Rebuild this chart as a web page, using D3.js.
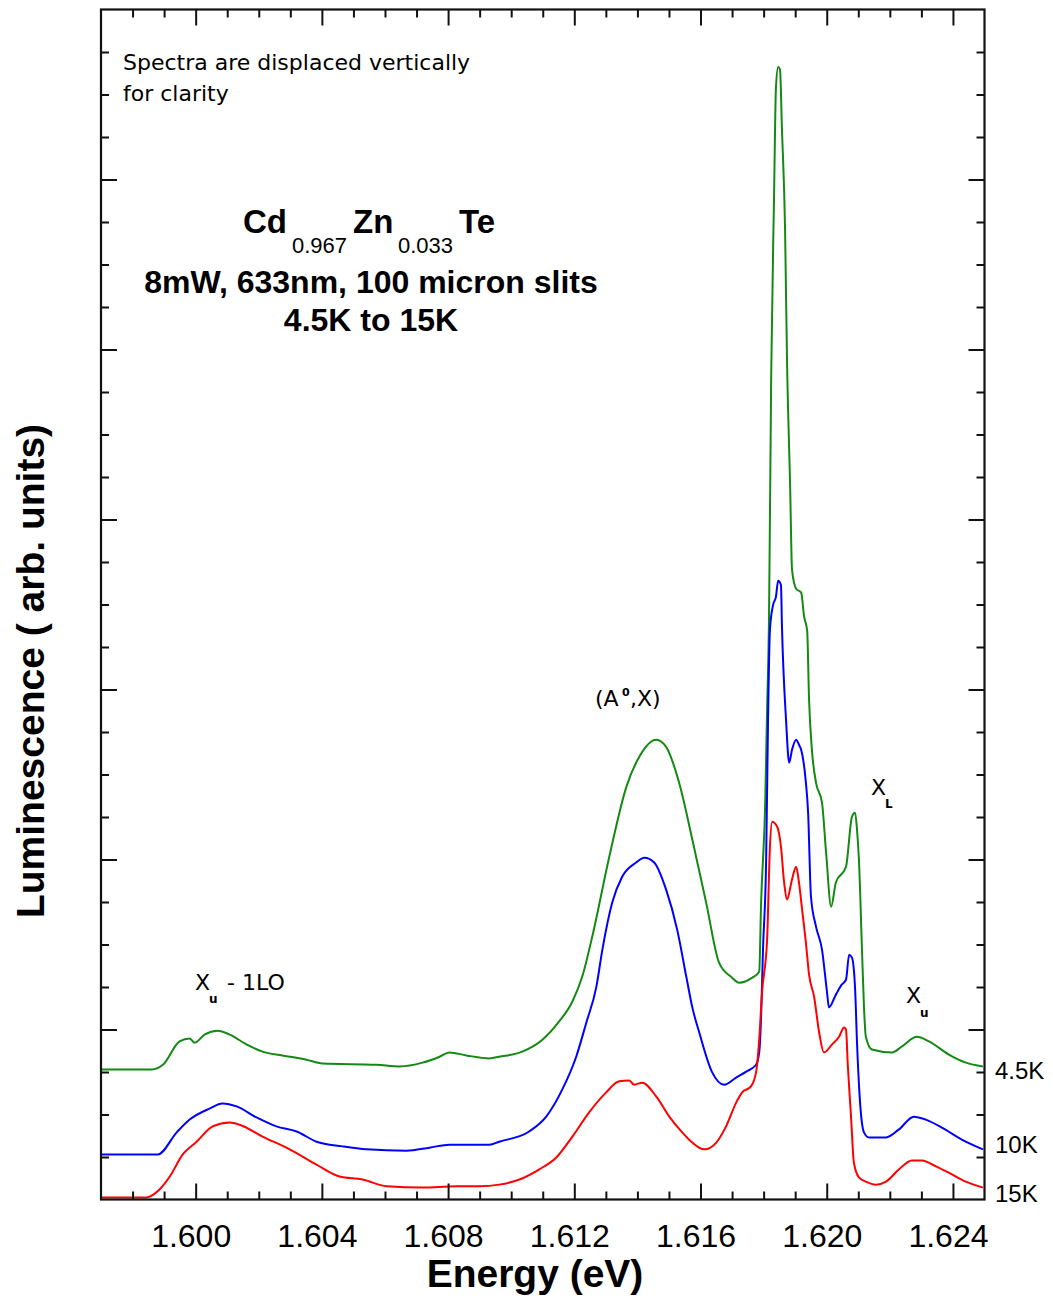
<!DOCTYPE html>
<html><head><meta charset="utf-8">
<script src="https://cdn.jsdelivr.net/npm/d3@7"></script>
<style>
html,body{margin:0;padding:0;background:#fff;}
svg{display:block;}
text{fill:#000;}
</style></head>
<body>
<svg id="chart" width="1053" height="1310"></svg>
<script>
// ---- data (Energy in eV, luminescence in arb. units, spectra offset vertically) ----
const seriesNames = ["4.5K", "10K", "15K"];
const seriesColors = ["#138a13", "#0000ff", "#ff0000"];

const green45K_E = [1.5970,1.59861,1.59896,1.59949,1.59981,1.59997,1.60028,1.60070,1.60108,1.60161,1.60212,1.60275,1.60351,1.60402,1.60573,1.60646,1.60719,1.60773,1.60804,1.60858,1.60931,1.60962,1.61035,1.61099,1.61152,1.61194,1.61225,1.61257,1.61311,1.61365,1.61406,1.61460,1.61491,1.61532,1.61574,1.61618,1.61659,1.61700,1.61722,1.61764,1.61786,1.61792,1.61805,1.61811,1.61817,1.61824,1.61833,1.61839,1.61846,1.61852,1.61858,1.61868,1.61874,1.61884,1.61890,1.61903,1.61919,1.61928,1.61938,1.61944,1.61953,1.61966,1.61985,1.61998,1.62014,1.62029,1.62061,1.62080,1.62090,1.62096,1.62102,1.62112,1.62118,1.62124,1.62143,1.62207,1.62238,1.62286,1.62324,1.62387,1.62441,1.62495];
const green45K_I = [3.06,3.06,3.17,3.72,3.79,3.69,3.88,3.97,3.88,3.65,3.48,3.39,3.29,3.20,3.17,3.13,3.22,3.36,3.46,3.39,3.32,3.36,3.48,3.76,4.19,4.66,5.24,6.19,8.07,9.71,10.42,10.82,10.65,9.81,8.47,6.98,5.57,5.22,5.10,5.22,5.36,6.98,9.34,11.52,13.64,19.40,23.59,26.15,26.65,26.58,25.21,22.81,19.80,16.79,14.82,14.37,14.28,13.73,13.38,11.76,10.58,9.81,9.34,8.16,6.89,7.46,7.83,9.01,9.10,8.70,8.00,5.81,4.54,3.83,3.53,3.46,3.60,3.83,3.72,3.41,3.22,3.13];

const blue10K_E = [1.5970,1.59880,1.59940,1.59981,1.60044,1.60085,1.60130,1.60193,1.60256,1.60320,1.60383,1.60465,1.60541,1.60668,1.60741,1.60804,1.60931,1.60962,1.61057,1.61111,1.61162,1.61206,1.61238,1.61270,1.61289,1.61320,1.61352,1.61396,1.61422,1.61453,1.61491,1.61526,1.61555,1.61574,1.61596,1.61637,1.61675,1.61713,1.61745,1.61776,1.61786,1.61792,1.61798,1.61808,1.61814,1.61820,1.61830,1.61839,1.61846,1.61855,1.61858,1.61871,1.61881,1.61890,1.61903,1.61912,1.61919,1.61934,1.61941,1.61950,1.61966,1.61985,1.62001,1.62007,1.62029,1.62048,1.62061,1.62071,1.62080,1.62090,1.62096,1.62105,1.62118,1.62134,1.62188,1.62229,1.62276,1.62314,1.62365,1.62428,1.62495];
const blue10K_I = [1.06,1.06,1.58,1.88,2.14,2.26,2.19,1.93,1.72,1.60,1.36,1.25,1.18,1.15,1.22,1.29,1.29,1.36,1.60,1.95,2.59,3.36,4.16,5.01,5.88,6.98,7.60,7.93,8.04,7.93,7.29,6.35,5.24,4.52,3.93,2.99,2.70,2.87,3.01,3.17,3.46,4.30,5.88,8.00,11.29,13.41,13.99,14.18,14.56,14.46,13.52,11.29,10.28,10.58,10.82,10.70,10.58,9.81,9.10,7.13,6.42,5.88,4.87,4.52,4.82,5.06,5.17,5.76,5.69,4.94,3.69,2.35,1.58,1.46,1.46,1.65,1.95,1.88,1.69,1.41,1.18];

const red15K_E = [1.5970,1.59845,1.59886,1.59918,1.59959,1.60003,1.60054,1.60108,1.60139,1.60212,1.60298,1.60383,1.60456,1.60529,1.60605,1.60719,1.60826,1.60899,1.60962,1.61026,1.61089,1.61143,1.61194,1.61247,1.61301,1.61342,1.61374,1.61390,1.61415,1.61460,1.61501,1.61542,1.61574,1.61612,1.61650,1.61681,1.61713,1.61732,1.61760,1.61776,1.61786,1.61795,1.61811,1.61820,1.61827,1.61843,1.61855,1.61865,1.61874,1.61890,1.61903,1.61912,1.61922,1.61934,1.61944,1.61960,1.61976,1.61991,1.62017,1.62039,1.62055,1.62061,1.62067,1.62077,1.62086,1.62102,1.62124,1.62156,1.62188,1.62229,1.62270,1.62302,1.62346,1.62387,1.62441,1.62495];
const red15K_I = [0.05,0.05,0.24,0.54,1.06,1.36,1.72,1.81,1.76,1.48,1.18,0.82,0.54,0.47,0.31,0.28,0.31,0.31,0.35,0.47,0.71,0.99,1.48,2.05,2.52,2.78,2.80,2.70,2.75,2.42,1.95,1.58,1.34,1.18,1.34,1.72,2.28,2.52,2.66,2.99,3.76,4.87,6.11,8.30,8.89,8.77,8.30,7.46,7.06,7.53,7.83,7.46,6.82,6.04,5.29,4.77,3.93,3.46,3.65,3.83,4.05,4.00,3.13,1.95,0.87,0.52,0.42,0.35,0.42,0.71,0.92,0.92,0.78,0.63,0.42,0.28];

const xMajorTicks = [1.600, 1.604, 1.608, 1.612, 1.616, 1.620, 1.624];
const xTickLabels = ["1.600", "1.604", "1.608", "1.612", "1.616", "1.620", "1.624"];
const yMajorTicks = [4, 8, 12, 16, 20, 24];

// ---- layout ----
const mLeft = 101, mRight = 984.5, mTop = 9.5, mBottom = 1199.5;
const svg = d3.select("#chart");

const x = d3.scaleLinear().domain([1.597, 1.625]).range([mLeft, mRight]);
const y = d3.scaleLinear().domain([0, 28]).range([mBottom, mTop]);

const xMinor = d3.range(1598, 1625).map(v => v / 1000).filter(v => !xMajorTicks.some(m => Math.abs(m - v) < 1e-7));
const yMinor = d3.range(1, 28).filter(v => v % 4 !== 0);

const series = [
  {name: seriesNames[0], color: seriesColors[0], E: green45K_E, I: green45K_I},
  {name: seriesNames[1], color: seriesColors[1], E: blue10K_E, I: blue10K_I},
  {name: seriesNames[2], color: seriesColors[2], E: red15K_E, I: red15K_I}
];

const line = d3.line().x(d => x(d[0])).y(d => y(d[1])).curve(d3.curveMonotoneX);
const plot = svg.append("g");
series.forEach(s => {
  plot.append("path")
    .datum(s.E.map((e, i) => [e, s.I[i]]))
    .attr("fill", "none")
    .attr("stroke", s.color)
    .attr("stroke-width", 2)
    .attr("stroke-linejoin", "miter")
    .attr("d", line);
});

// ---- axes (inward ticks on all four sides) ----
function styleAxis(g) {
  g.select(".domain").remove();
  g.selectAll(".tick line").attr("stroke", "#111").attr("stroke-width", 2);
}
svg.append("g").attr("transform", `translate(0,${mBottom})`)
  .call(d3.axisBottom(x).tickValues(xMinor).tickSize(-8).tickFormat(""))
  .call(styleAxis);
const xb = svg.append("g").attr("transform", `translate(0,${mBottom})`)
  .call(d3.axisBottom(x).tickValues(xMajorTicks).tickSize(-16).tickFormat((d, i) => xTickLabels[i]))
  .call(styleAxis);
xb.selectAll(".tick text")
  .attr("y", 47).attr("dy", 0).attr("x", -5)
  .attr("font-family", "'Liberation Sans', Arial, sans-serif")
  .attr("font-size", 32).attr("fill", "#111");

svg.append("g").attr("transform", `translate(0,${mTop})`)
  .call(d3.axisTop(x).tickValues(xMinor).tickSize(-8).tickFormat(""))
  .call(styleAxis);
svg.append("g").attr("transform", `translate(0,${mTop})`)
  .call(d3.axisTop(x).tickValues(xMajorTicks).tickSize(-16).tickFormat(""))
  .call(styleAxis);

svg.append("g").attr("transform", `translate(${mLeft},0)`)
  .call(d3.axisLeft(y).tickValues(yMinor).tickSize(-8).tickFormat(""))
  .call(styleAxis);
svg.append("g").attr("transform", `translate(${mLeft},0)`)
  .call(d3.axisLeft(y).tickValues(yMajorTicks).tickSize(-16).tickFormat(""))
  .call(styleAxis);
svg.append("g").attr("transform", `translate(${mRight},0)`)
  .call(d3.axisRight(y).tickValues(yMinor).tickSize(-8).tickFormat(""))
  .call(styleAxis);
svg.append("g").attr("transform", `translate(${mRight},0)`)
  .call(d3.axisRight(y).tickValues(yMajorTicks).tickSize(-16).tickFormat(""))
  .call(styleAxis);

svg.append("rect")
  .attr("x", mLeft).attr("y", mTop)
  .attr("width", mRight - mLeft).attr("height", mBottom - mTop)
  .attr("fill", "none").attr("stroke", "#111").attr("stroke-width", 2.2);

// ---- axis titles ----
svg.append("text")
  .attr("x", 535).attr("y", 1287)
  .attr("text-anchor", "middle")
  .attr("font-family", "'Liberation Sans', Arial, sans-serif")
  .attr("font-weight", "bold").attr("font-size", 39)
  .text("Energy (eV)");

svg.append("text")
  .attr("transform", "translate(44,671) rotate(-90)")
  .attr("text-anchor", "middle")
  .attr("font-family", "'Liberation Sans', Arial, sans-serif")
  .attr("font-weight", "bold").attr("font-size", 39)
  .text("Luminescence ( arb. units)");

// ---- annotations ----
const small = "'DejaVu Sans', sans-serif";
svg.append("text").attr("x", 123).attr("y", 70)
  .attr("font-family", small).attr("font-size", 22).attr("fill", "#111")
  .text("Spectra are displaced vertically");
svg.append("text").attr("x", 123).attr("y", 101)
  .attr("font-family", small).attr("font-size", 22).attr("fill", "#111")
  .text("for clarity");

const bold = "'Liberation Sans', Arial, sans-serif";
const t1 = svg.append("text").attr("font-family", bold).attr("font-size", 33).attr("font-weight", "bold");
t1.append("tspan").attr("x", 243).attr("y", 233).text("Cd");
t1.append("tspan").attr("x", 292).attr("y", 253).attr("font-size", 22).attr("font-weight", "normal").text("0.967");
t1.append("tspan").attr("x", 353).attr("y", 233).text("Zn");
t1.append("tspan").attr("x", 398).attr("y", 253).attr("font-size", 22).attr("font-weight", "normal").text("0.033");
t1.append("tspan").attr("x", 459).attr("y", 233).text("Te");

svg.append("text").attr("x", 371).attr("y", 293).attr("text-anchor", "middle")
  .attr("font-family", bold).attr("font-size", 32).attr("font-weight", "bold")
  .text("8mW, 633nm, 100 micron slits");
svg.append("text").attr("x", 371).attr("y", 331).attr("text-anchor", "middle")
  .attr("font-family", bold).attr("font-size", 32).attr("font-weight", "bold")
  .text("4.5K to 15K");

// peak labels
const a = svg.append("text").attr("font-family", small).attr("font-size", 22).attr("fill", "#111");
a.append("tspan").attr("x", 595).attr("y", 706).text("(A");
a.append("tspan").attr("x", 622).attr("y", 696).attr("font-size", 11).attr("font-weight", "bold").text("0");
a.append("tspan").attr("x", 630).attr("y", 706).text(",X)");

const xl = svg.append("text").attr("font-family", small).attr("font-size", 22).attr("fill", "#111");
xl.append("tspan").attr("x", 871).attr("y", 795).text("X");
xl.append("tspan").attr("x", 885).attr("y", 808).attr("font-size", 12).attr("font-weight", "bold").text("L");

const xu = svg.append("text").attr("font-family", small).attr("font-size", 22).attr("fill", "#111");
xu.append("tspan").attr("x", 906).attr("y", 1003).text("X");
xu.append("tspan").attr("x", 920).attr("y", 1017).attr("font-size", 12).attr("font-weight", "bold").text("u");

const xlo = svg.append("text").attr("font-family", small).attr("font-size", 22).attr("fill", "#111");
xlo.append("tspan").attr("x", 195).attr("y", 990).text("X");
xlo.append("tspan").attr("x", 209).attr("y", 1003).attr("font-size", 12).attr("font-weight", "bold").text("u");
xlo.append("tspan").attr("x", 227).attr("y", 990).text("- 1LO");

// series labels at right
const labelY = [1079, 1153, 1202];
series.forEach((s, i) => {
  svg.append("text").attr("x", 995).attr("y", labelY[i])
    .attr("font-family", bold).attr("font-size", 24).attr("fill", "#111")
    .text(s.name);
});
</script>
</body></html>
